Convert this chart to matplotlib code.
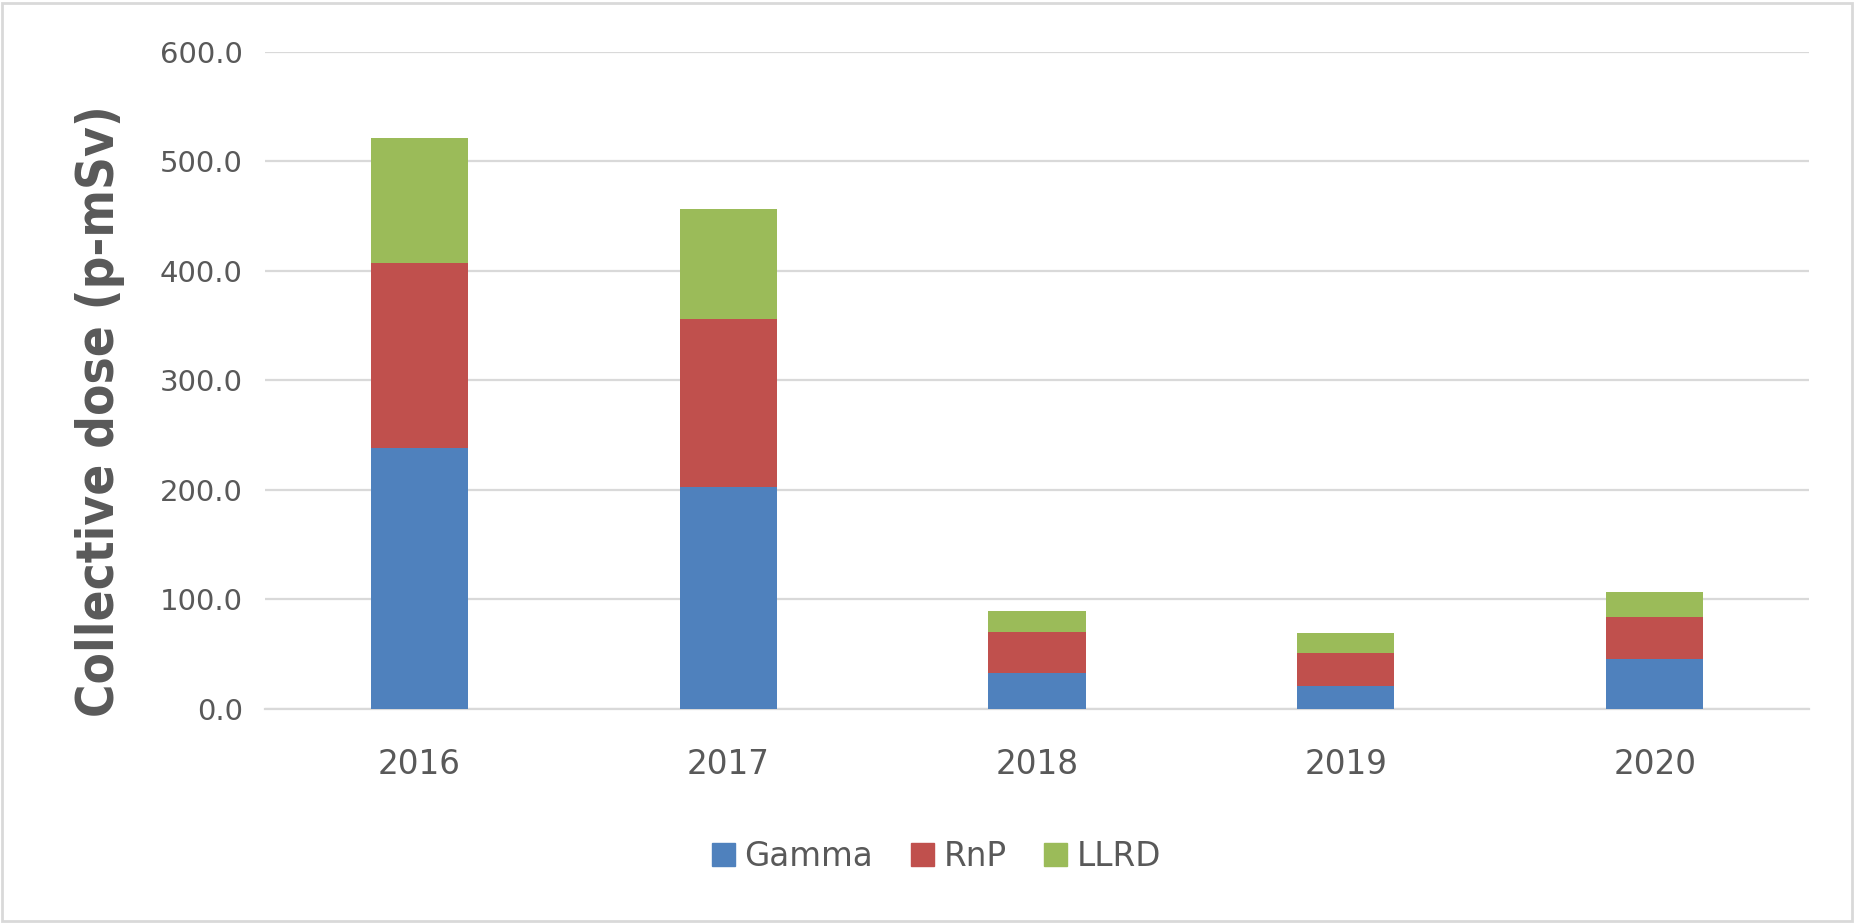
import matplotlib.pyplot as plt
import matplotlib.patches as mpatches
import numpy as np

years = ['2016', '2017', '2018', '2019', '2020']
gamma = [238.2, 202.6, 33.1, 21.2, 46.0]
rnp = [169.5, 153.9, 36.8, 29.7, 37.7]
llrd = [113.4, 100.4, 19.7, 18.4, 23.4]
series_names = ['Gamma', 'RnP', 'LLRD']
colors = ['#4F81BD', '#C0504D', '#9BBB59']
yticks = [0, 100, 200, 300, 400, 500, 600]

txt = '#595959'

fig = plt.figure(figsize=(18.56, 9.23), dpi=100)
ax = fig.add_axes([0.1428, 0.2319, 0.8319, 0.7118])

x = np.arange(len(years))
w = 0.315
bottom = np.zeros(len(years))
for vals, c in zip([gamma, rnp, llrd], colors):
    ax.bar(x, vals, w, bottom=bottom, color=c, zorder=3)
    bottom += np.array(vals)

ax.set_xlim(-0.5, len(years) - 0.5)
ax.set_ylim(0, 600)
ax.set_yticks(yticks)
ax.set_yticklabels([f'{v:.1f}' for v in yticks])
ax.set_xticks(x)
ax.set_xticklabels(years)
ax.tick_params(axis='both', length=0, colors=txt)
ax.tick_params(axis='y', pad=16, labelsize=21)
ax.tick_params(axis='x', pad=28, labelsize=23.5)
ax.grid(axis='y', color='#D9D9D9', lw=1.6, zorder=0)
for s in ['top', 'right', 'left']:
    ax.spines[s].set_visible(False)
ax.spines['bottom'].set_color('#D9D9D9')
ax.spines['bottom'].set_linewidth(1.6)

ylab = fig.text(0.054, 0.555, 'Collective dose (p-mSv)', rotation=90, ha='center', va='center',
                fontsize=38, fontweight='bold', fontstretch='condensed', color=txt)
# shrink the label if the condensed face is missing, so it keeps the reference length
fig.canvas.draw()
h = ylab.get_window_extent().height
if h > 612:
    ylab.set_fontsize(38 * 612 / h)

handles = [mpatches.Patch(color=c, label=n) for c, n in zip(colors, series_names)]
fig.legend(handles=handles, loc='center', bbox_to_anchor=(0.5045, 0.072), ncol=3,
           frameon=False, fontsize=23.5, labelcolor=txt, handlelength=0.7,
           handleheight=0.7, handletextpad=0.3, columnspacing=1.15)

fig.add_artist(mpatches.Rectangle((0.001, 0.002), 0.997, 0.995, transform=fig.transFigure,
                                  fill=False, edgecolor='#D9D9D9', lw=2))

fig.savefig('out.png', dpi=100)
